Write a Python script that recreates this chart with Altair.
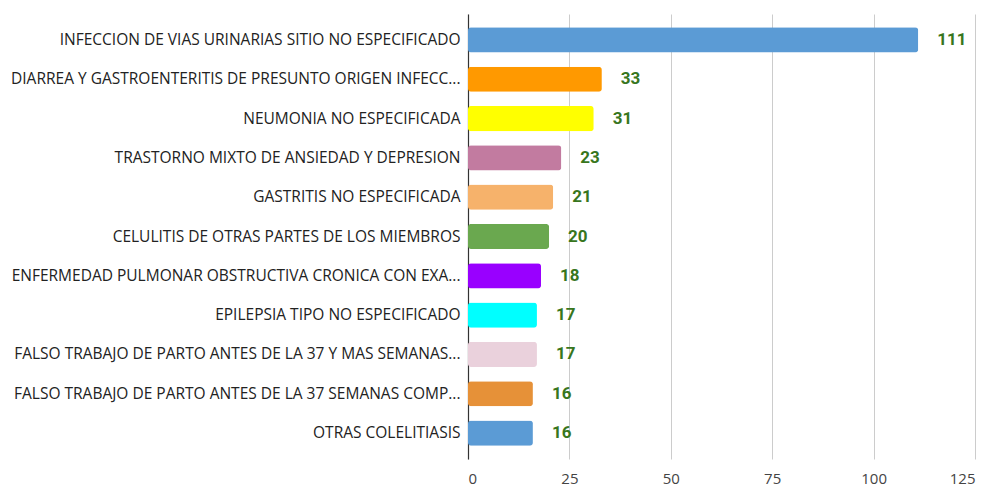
import altair as alt
import pandas as pd

categories = [
    "INFECCION DE VIAS URINARIAS SITIO NO ESPECIFICADO",
    "DIARREA Y GASTROENTERITIS DE PRESUNTO ORIGEN INFECC...",
    "NEUMONIA NO ESPECIFICADA",
    "TRASTORNO MIXTO DE ANSIEDAD Y DEPRESION",
    "GASTRITIS NO ESPECIFICADA",
    "CELULITIS DE OTRAS PARTES DE LOS MIEMBROS",
    "ENFERMEDAD PULMONAR OBSTRUCTIVA CRONICA CON EXA...",
    "EPILEPSIA TIPO NO ESPECIFICADO",
    "FALSO TRABAJO DE PARTO ANTES DE LA 37 Y MAS SEMANAS...",
    "FALSO TRABAJO DE PARTO ANTES DE LA 37 SEMANAS COMP...",
    "OTRAS COLELITIASIS",
]
values = [111, 33, 31, 23, 21, 20, 18, 17, 17, 16, 16]
colors = ["#5b9bd5", "#ff9900", "#ffff00", "#c27ba0", "#f6b26b", "#6aa84f",
          "#9900ff", "#00ffff", "#ead1dc", "#e69138", "#5b9bd5"]
x_ticks = [0, 25, 50, 75, 100, 125]

df = pd.DataFrame({"cat": categories, "val": values, "color": colors})

FONT = "Open Sans"

y = alt.Y("cat:N", sort=categories, title=None,
          scale=alt.Scale(paddingInner=0.36, paddingOuter=0.34),
          axis=alt.Axis(labelFont=FONT, labelFontSize=15.5, labelColor="#222222",
                        labelPadding=8, ticks=False, domain=True,
                        domainColor="#333333", domainWidth=1.2,
                        labelLimit=0, grid=False))
x = alt.X("val:Q", title=None,
          scale=alt.Scale(domain=[0, 125], nice=False),
          axis=alt.Axis(values=x_ticks, grid=True, gridColor="#cccccc",
                        domain=False, ticks=False, labelPadding=12,
                        labelFont=FONT, labelFontSize=15, labelColor="#444444"))

bars = alt.Chart(df).mark_bar(cornerRadius=3).encode(
    x=x, y=y, color=alt.Color("color:N", scale=None))

labels = alt.Chart(df).mark_text(
    align="left", baseline="middle", dx=19, font="Roboto", fontWeight="bold",
    fontSize=17, color="#38761d").encode(
    x=alt.X("val:Q"), y=alt.Y("cat:N", sort=categories), text="val:Q")

chart = (bars + labels).properties(
    width=507, height=445,
    autosize=alt.AutoSizeParams(type="none"),
    padding={"left": 460, "top": 6, "right": 5, "bottom": 30},
).configure_view(stroke=None)

chart.save("out.html", embed_options={"renderer": "svg", "actions": False})
